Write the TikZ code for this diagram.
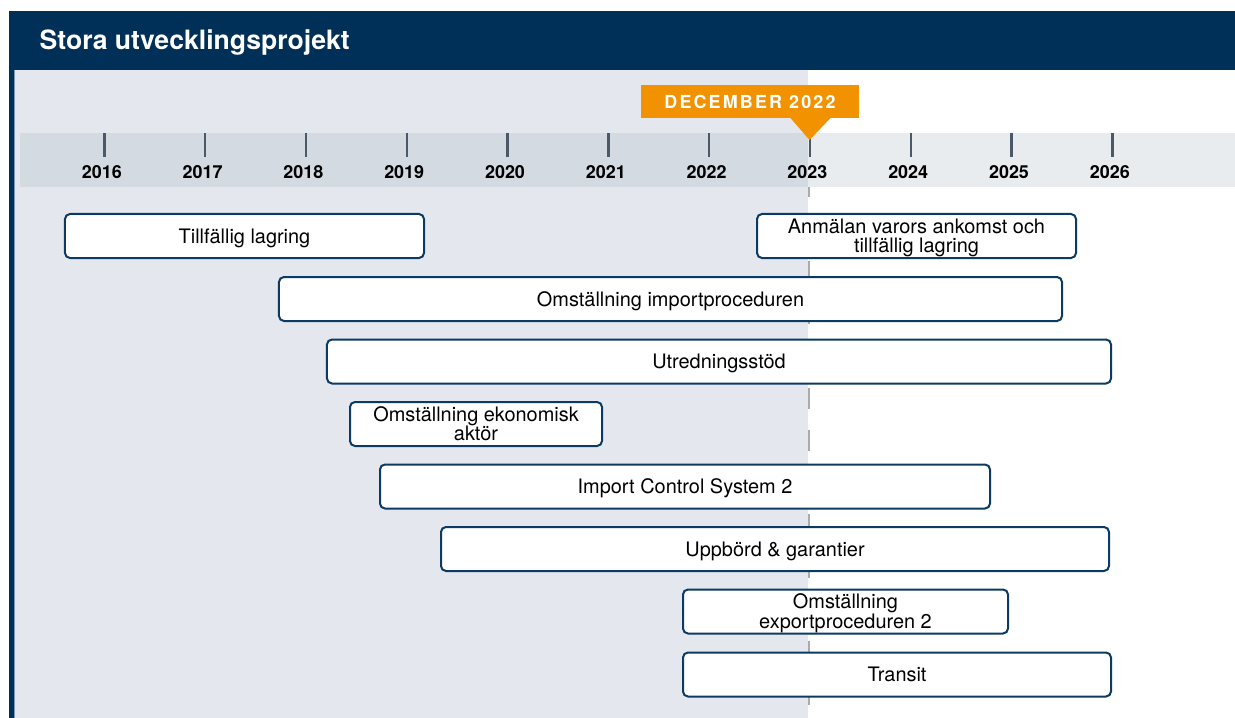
\documentclass[tikz,border=0pt]{standalone}
\usepackage{fontspec}
\setmainfont{TeX Gyre Heros}
\newfontfamily\decfont[LetterSpace=12]{TeX Gyre Heros}
\definecolor{navy}{HTML}{003057}
\definecolor{boxline}{HTML}{0B3A63}
\definecolor{pastbg}{HTML}{E4E8EE}
\definecolor{bandpast}{HTML}{D3DAE2}
\definecolor{bandfut}{HTML}{E9ECEF}
\definecolor{tickc}{HTML}{4A5868}
\definecolor{markor}{HTML}{F39200}
\definecolor{sidebar}{HTML}{8098B2}
\definecolor{dashc}{HTML}{ABABAB}
\begin{document}
\begin{tikzpicture}[x=1bp,y=-1bp,
  projbox/.style={draw=boxline, line width=2bp, fill=white, rounded corners=5bp,
    inner sep=0pt, align=center, minimum height=44bp,
    font=\fontsize{20}{19.4}\selectfont, text height=14.4bp, text depth=0bp},
  twoline/.style={text height=33.4bp, text depth=0bp},
  yearlbl/.style={anchor=base, inner sep=0pt, font=\fontsize{18}{20}\selectfont\bfseries},
  tickline/.style={draw=tickc, line width=2.4bp},
  dashline/.style={draw=dashc, line width=2bp, dash pattern=on 21bp off 21.3bp}]
\useasboundingbox (0,0) rectangle (1235,718);
\fill[white] (0,0) rectangle (1235,718);
% past background
\fill[pastbg] (15,70) rectangle (808,718);
% header
\fill[navy] (9,11) rectangle (1235,70);
\node[anchor=base west, inner sep=0pt, text=white, font=\fontsize{26.7}{30}\selectfont\bfseries] (title) at (39.5,50) {Stora utvecklingsprojekt};
% left bar
\fill[navy] (9,70) rectangle (13.6,718);
\fill[sidebar] (13.6,70) rectangle (15,718);
% dashed "now" line
\coordinate (dtop) at (809,176);
\coordinate (dbot) at (809,718);
\draw[dashline] (dtop) -- (dbot);
% timeline band
\fill[bandpast] (20,133) rectangle (808,187);
\fill[bandfut] (808,133) rectangle (1235,187);
% ticks and years
\foreach \yr [count=\k from 0] in {2016,2017,2018,2019,2020,2021,2022,2023,2024,2025,2026} {
  \pgfmathsetmacro{\tx}{104.3+100.8*\k}
  \draw[tickline] (\tx,133) -- (\tx,157);
  \node[yearlbl] (y\yr) at (\tx-2.5,179) {\yr};
}
% December 2022 marker
\node[fill=markor, inner sep=0pt, minimum width=218bp, minimum height=33bp, text=white,
  font=\decfont\fontsize{18}{20}\selectfont\bfseries] (dec) at (750,101.5) {DECEMBER 2022};
\coordinate (tipL) at (790,117.5);
\coordinate (tipR) at (831,117.5);
\coordinate (tip) at (809.5,140);
\fill[markor] (tipL) -- (tipR) -- (tip) -- cycle;
% project boxes
\node[projbox, minimum width=359bp] (b1) at (244.5,236) {Tillfällig lagring};
\node[projbox, twoline, minimum width=319bp] (b2) at (916.5,236) {Anmälan varors ankomst och\\tillfällig lagring};
\node[projbox, minimum width=783bp] (b3) at (670.5,299) {Omställning importproceduren};
\node[projbox, minimum width=784bp] (b4) at (719,361.5) {Utredningsstöd};
\node[projbox, twoline, minimum width=252bp] (b5) at (476,424) {Omställning ekonomisk\\aktör};
\node[projbox, minimum width=610bp] (b6) at (685,486.5) {Import Control System 2};
\node[projbox, minimum width=668bp] (b7) at (775,549) {Uppbörd \& garantier};
\node[projbox, twoline, minimum width=325bp] (b8) at (845.5,611.5) {Omställning\\exportproceduren 2};
\node[projbox, minimum width=428bp] (b9) at (897,674.5) {Transit};
\end{tikzpicture}
\end{document}
